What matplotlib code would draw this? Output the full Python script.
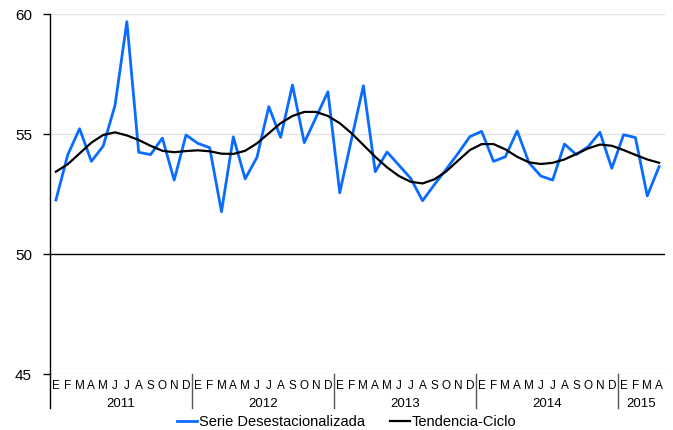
import matplotlib.pyplot as plt
import matplotlib.transforms as transforms
from matplotlib.lines import Line2D

plt.rcParams['font.family'] = ['Liberation Sans', 'DejaVu Sans']

meses = ['E', 'F', 'M', 'A', 'M', 'J', 'J', 'A', 'S', 'O', 'N', 'D']
anios = ['2011', '2012', '2013', '2014', '2015']
meses_por_anio = [12, 12, 12, 12, 4]

serie = [52.25, 54.13, 55.22, 53.86, 54.50, 56.20, 59.68, 54.24, 54.14, 54.83, 53.08, 54.96,
         54.61, 54.43, 51.76, 54.88, 53.13, 54.03, 56.14, 54.86, 57.04, 54.64, 55.70, 56.76,
         52.55, 54.80, 57.01, 53.43, 54.25, 53.70, 53.15, 52.22, 52.89, 53.53, 54.19, 54.89,
         55.11, 53.86, 54.05, 55.13, 53.80, 53.25, 53.08, 54.58, 54.14, 54.47, 55.07, 53.57,
         54.97, 54.85, 52.42, 53.64]

tendencia = [53.43, 53.74, 54.19, 54.64, 54.96, 55.07, 54.94, 54.75, 54.51, 54.30, 54.24, 54.29,
             54.32, 54.28, 54.18, 54.17, 54.30, 54.61, 55.03, 55.45, 55.75, 55.92, 55.92, 55.75,
             55.45, 55.03, 54.54, 54.05, 53.61, 53.25, 53.01, 52.94, 53.11, 53.44, 53.89, 54.33,
             54.58, 54.58, 54.36, 54.05, 53.82, 53.75, 53.80, 53.94, 54.17, 54.40, 54.56, 54.51,
             54.33, 54.13, 53.94, 53.80]

etiquetas = []
for n in meses_por_anio:
    etiquetas += meses[:n]
x = list(range(len(serie)))

fig = plt.figure(figsize=(6.73, 4.30), dpi=100)
ax = fig.add_axes([50 / 673, 1 - 374 / 430, 615 / 673, 360 / 430])

for v in [45, 55, 60]:
    ax.axhline(v, color='#e3e3e3', lw=1, zorder=0)
ax.axhline(50, color='black', lw=1, zorder=1)

ax.plot(x, serie, color='#0a6cff', lw=2, label='Serie Desestacionalizada', zorder=3)
ax.plot(x, tendencia, color='black', lw=1.6, label='Tendencia-Ciclo', zorder=4)

ax.set_xlim(-0.5, len(serie) - 0.5)
ax.set_ylim(45, 60)
ax.set_yticks([45, 50, 55, 60])
ax.tick_params(axis='y', length=5, width=1, labelsize=11, pad=8)
ax.set_xticks(x)
ax.set_xticklabels(etiquetas, fontsize=8.5)
ax.tick_params(axis='x', length=0, pad=4)

for s in ['top', 'right', 'bottom']:
    ax.spines[s].set_visible(False)
ax.spines['left'].set_linewidth(1)

trans = transforms.blended_transform_factory(ax.transData, ax.transAxes)
inicio = -0.5
for anio, n in zip(anios, meses_por_anio):
    ax.text(inicio + n / 2, -0.082, anio, transform=trans, ha='center', va='center', fontsize=9.5)
    if inicio > -0.5:
        ax.add_line(Line2D([inicio, inicio], [0, -0.095], transform=trans, color='#555555',
                           lw=1, clip_on=False))
    inicio += n
ax.add_line(Line2D([-0.5, -0.5], [0, -0.095], transform=trans, color='black', lw=1, clip_on=False))

fig.legend(loc='lower center', bbox_to_anchor=(0.515, -0.028), ncol=2, frameon=False,
           fontsize=10.5, handlelength=1.4, handletextpad=0.1, columnspacing=1.7)

plt.savefig('out.png', dpi=100)
